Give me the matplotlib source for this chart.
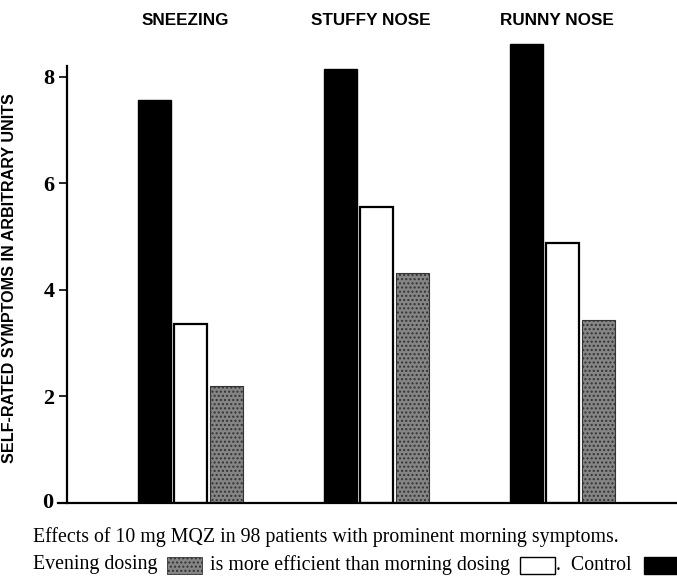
import matplotlib
matplotlib.use("Agg")
import matplotlib.pyplot as plt
import numpy as np
from matplotlib.patches import Rectangle

categories = ["SNEEZING", "STUFFY NOSE", "RUNNY NOSE"]
control = [7.56, 8.14, 8.61]
morning = [3.36, 5.55, 4.88]
evening = [2.19, 4.31, 3.43]
y_ticks = [0, 2, 4, 6, 8]
y_ticklabels = ["0", "2", "4", "6", "8"]
ylabel = "SELF-RATED SYMPTOMS IN ARBITRARY UNITS"
caption1 = "Effects of 10 mg MQZ in 98 patients with prominent morning symptoms."
caption2_parts = ["Evening dosing", "is more efficient than morning dosing", ".  Control"]

W, H = 677, 577
fig = plt.figure(figsize=(W / 100, H / 100), dpi=100)
ax = fig.add_axes([67 / W, 1 - 503 / H, (677 - 67) / W, (503 - 34) / H])

EV_FACE = "#858585"
EV_HATCH = "#333333"

x = np.arange(len(categories))
bw = 0.180
off = 0.194
ax.bar(x - off, control, bw, color="black", edgecolor="black", linewidth=1)
ax.bar(x, morning, bw, color="white", edgecolor="black", linewidth=1.6)
ax.bar(x + off, evening, bw, color=EV_FACE, edgecolor=EV_HATCH, hatch="....", linewidth=0.8)

ax.set_xlim(-0.664, 2.616)
ax.set_ylim(0, 8.8)
for s in ["top", "right"]:
    ax.spines[s].set_visible(False)
ax.spines["left"].set_bounds(0, 8.2)
ax.spines["left"].set_linewidth(1.6)
ax.spines["bottom"].set_linewidth(1.6)
ax.spines["bottom"].set_bounds(-0.712, 2.616)
ax.set_xticks([])
ax.set_yticks(y_ticks[1:])
ax.set_yticklabels(y_ticklabels[1:], fontfamily="Liberation Serif", fontweight="bold", fontsize=16)
ax.tick_params(axis="y", direction="out", length=6, width=1.2, pad=3)
ax.text(-0.664 - 0.075, 0, y_ticklabels[0], ha="right", va="center",
        fontfamily="Liberation Serif", fontweight="bold", fontsize=16, clip_on=False)

ax.set_ylabel(ylabel, fontfamily="Liberation Sans", fontweight="bold", fontsize=11.6)
ax.yaxis.set_label_coords(-0.082, 0.48)

for i, c in enumerate(categories):
    ax.text(i - 0.03, 9.06, c, ha="center", va="center", fontfamily="Liberation Sans",
            fontweight="bold", fontsize=12.3, clip_on=False)

# caption
cap_fs = 14.3
fig.text(33 / W, 1 - 537 / H, caption1, ha="left", va="center",
         fontfamily="Liberation Serif", fontsize=cap_fs)

fig.canvas.draw()
r = fig.canvas.get_renderer()
ycap = 1 - 565 / H
xpos = 33
swatch_w, swatch_h = 35, 17
gaps_before = [9, 10, 12]
gaps_after = [8, 2, 0]
styles = [dict(facecolor=EV_FACE, edgecolor=EV_HATCH, hatch="....", lw=0.6),
          dict(facecolor="white", edgecolor="black", lw=1.0),
          dict(facecolor="black", edgecolor="black", lw=1.0)]
for part, st, gb, ga in zip(caption2_parts, styles, gaps_before, gaps_after):
    t = fig.text(xpos / W, ycap, part, ha="left", va="center",
                 fontfamily="Liberation Serif", fontsize=cap_fs)
    bb = t.get_window_extent(r)
    xpos = bb.x1 + gb
    rect = Rectangle((xpos / W, ycap - (swatch_h / 2) / H), swatch_w / W, swatch_h / H,
                     transform=fig.transFigure, **st)
    fig.patches.append(rect)
    xpos = xpos + swatch_w + ga

fig.savefig("out.png", dpi=100)
